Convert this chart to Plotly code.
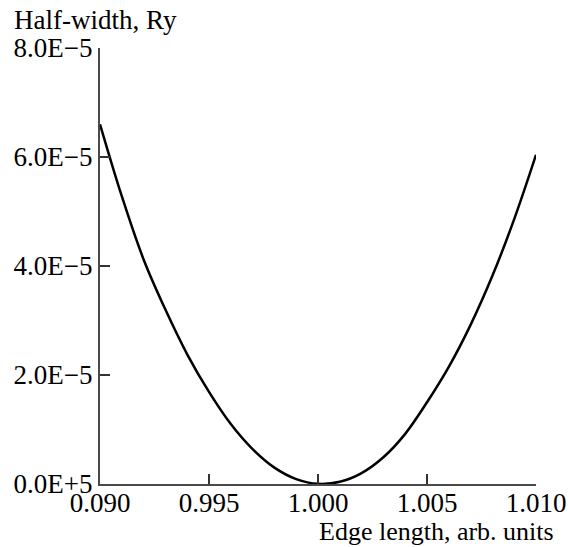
import plotly.graph_objects as go

# Edge length (arb. units) and line half-width (Ry)
edge_length = [0.990, 0.991, 0.992, 0.993, 0.994, 0.995, 0.996, 0.997, 0.998, 0.999,
               1.000, 1.001, 1.002, 1.003, 1.004, 1.005, 1.006, 1.007, 1.008, 1.009, 1.010]
half_width = [6.60e-5, 5.28e-5, 4.12e-5, 3.20e-5, 2.38e-5, 1.69e-5, 1.10e-5, 0.64e-5, 0.30e-5, 0.09e-5,
              0.003e-5, 0.04e-5, 0.20e-5, 0.49e-5, 0.92e-5, 1.50e-5, 2.15e-5, 2.92e-5, 3.82e-5, 4.86e-5, 6.04e-5]

x_tickvals = [0.990, 0.995, 1.000, 1.005, 1.010]
x_ticktext = ["0.090", "0.995", "1.000", "1.005", "1.010"]
y_tickvals = [0, 2e-5, 4e-5, 6e-5, 8e-5]
y_ticktext = ["0.0E+5", "2.0E\u22125", "4.0E\u22125", "6.0E\u22125", "8.0E\u22125"]

FONT = "Liberation Serif, Times New Roman, serif"
FS = 27

fig = go.Figure()
fig.add_trace(go.Scatter(
    x=edge_length, y=half_width, mode="lines",
    line=dict(color="black", width=2.5, shape="spline", smoothing=1.0),
    showlegend=False,
))

axis_common = dict(
    showgrid=False, zeroline=False, showline=True, linecolor="#4a4a4a", linewidth=2,
    ticks="inside", ticklen=10, tickwidth=1.5, tickcolor="#333333", automargin=False,
    tickfont=dict(family=FONT, size=FS, color="black"),
)

fig.update_layout(
    width=568, height=547,
    margin=dict(l=100, r=32, t=48, b=63),
    plot_bgcolor="white", paper_bgcolor="white",
    xaxis=dict(range=[0.990, 1.010], tickmode="array", tickvals=x_tickvals, ticktext=x_ticktext,
               ticklabelstandoff=-6, **axis_common),
    yaxis=dict(range=[0, 8e-5], tickmode="array", tickvals=y_tickvals, ticktext=y_ticktext,
               **axis_common),
    annotations=[
        dict(text="Half-width, Ry", xref="paper", yref="paper", x=-0.2018, y=1.064,
             xanchor="left", yanchor="middle", showarrow=False,
             font=dict(family=FONT, size=FS, color="black")),
        dict(text="Edge length, arb. units", xref="paper", yref="paper", x=1.046, y=-0.1083,
             xanchor="right", yanchor="middle", showarrow=False,
             font=dict(family=FONT, size=26, color="black")),
    ],
)

fig.write_html("out.html")
